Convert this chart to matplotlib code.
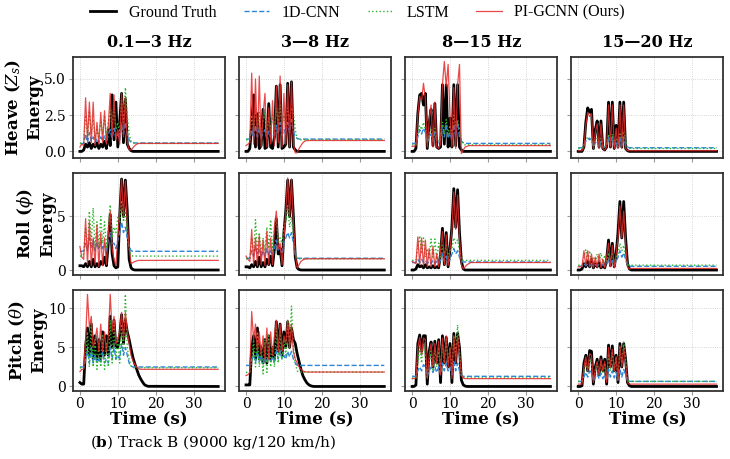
import numpy as np
import matplotlib.pyplot as plt

# sample times: 0..18 s every 0.5 s, then the flat tail out to 36.5 s
t = np.append(np.arange(0, 18.5, 0.5), 36.5)

bands = ["0.1\u20143 Hz", "3\u20148 Hz", "8\u201415 Hz", "15\u201420 Hz"]
row_labels = ["Heave ($Z_s$)\nEnergy", "Roll ($\\phi$)\nEnergy", "Pitch ($\\theta$)\nEnergy"]
models = ["Ground Truth", "1D-CNN", "LSTM", "PI-GCNN (Ours)"]

# ---- Heave ----
heave_gt = [
    [0, 0, 0.1, 0.5, 0.3, 0.6, 0.2, 0.5, 0.3, 0.6, 0.2, 0.5, 0.3, 0.7, 0.2, 1.5, 0.4, 3.9, 0.8, 3.4,
     0.3, 2.0, 4.0, 0.6, 3.6, 0.5, 0.2, 0.05, 0, 0, 0, 0, 0, 0, 0, 0, 0, 0],
    [0, 0, 0.2, 1.8, 3.9, 0.3, 2.6, 0.2, 0.4, 2.9, 0.2, 0.3, 3.3, 0.3, 0.2, 1.0, 4.5, 0.3, 4.6, 0.2,
     0.3, 0.5, 4.7, 0.3, 4.8, 0.3, 0.1, 0, 0, 0, 0, 0, 0, 0, 0, 0, 0, 0],
    [0, 0, 0.2, 2.6, 3.9, 4.0, 3.2, 4.0, 0.2, 2.0, 2.9, 0.4, 3.3, 0.3, 0.2, 0.3, 4.6, 0.5, 4.6, 0.3,
     2.3, 0.3, 4.6, 0.4, 4.6, 0.3, 0.1, 0, 0, 0, 0, 0, 0, 0, 0, 0, 0, 0],
    [0, 0, 0, 0.3, 2.0, 3.0, 2.7, 2.9, 0.2, 1.5, 2.1, 0.3, 2.1, 0.2, 0.1, 0.3, 3.4, 0.3, 3.4, 0.2,
     1.8, 0.3, 3.4, 0.3, 3.4, 0.2, 0.05, 0, 0, 0, 0, 0, 0, 0, 0, 0, 0, 0],
]
heave_cnn = [
    [0.55, 0.55, 0.55, 1.2, 0.6, 1.3, 0.7, 1.0, 0.6, 0.9, 0.6, 1.0, 0.7, 1.1, 0.6, 1.2, 1.5, 0.9, 1.6, 0.9,
     1.2, 0.8, 1.8, 1.2, 2.0, 1.2, 0.8, 0.6, 0.6, 0.58, 0.58, 0.58, 0.58, 0.58, 0.58, 0.58, 0.58, 0.58],
    [0.85, 0.85, 0.85, 1.5, 0.9, 1.8, 1.0, 1.6, 0.9, 1.3, 1.5, 0.9, 1.4, 1.0, 1.2, 1.1, 1.8, 1.2, 2.0, 1.1,
     1.5, 1.2, 2.0, 1.3, 2.2, 1.4, 1.0, 0.9, 0.85, 0.85, 0.85, 0.85, 0.85, 0.85, 0.85, 0.85, 0.85, 0.85],
    [0.55, 0.55, 0.55, 1.0, 1.5, 1.2, 1.6, 1.3, 0.6, 1.0, 1.2, 0.7, 1.3, 0.7, 0.6, 0.8, 1.8, 1.0, 1.9, 0.9,
     1.3, 0.8, 1.9, 1.0, 2.0, 1.0, 0.7, 0.6, 0.55, 0.55, 0.55, 0.55, 0.55, 0.55, 0.55, 0.55, 0.55, 0.55],
    [0.25, 0.25, 0.25, 0.4, 0.7, 0.9, 0.8, 0.9, 0.3, 0.6, 0.7, 0.3, 0.7, 0.3, 0.3, 0.4, 1.0, 0.4, 1.0, 0.3,
     0.7, 0.3, 1.0, 0.4, 1.0, 0.4, 0.3, 0.25, 0.25, 0.25, 0.25, 0.25, 0.25, 0.25, 0.25, 0.25, 0.25, 0.25],
]
heave_lstm = [
    [0.55, 0.55, 0.6, 2.5, 1.0, 2.8, 1.2, 2.2, 0.8, 1.5, 1.0, 2.0, 1.2, 2.5, 1.0, 2.0, 3.0, 1.5, 3.2, 1.5,
     2.0, 1.2, 3.5, 2.0, 4.4, 2.5, 1.2, 0.7, 0.6, 0.55, 0.55, 0.55, 0.55, 0.55, 0.55, 0.55, 0.55, 0.55],
    [0.8, 0.8, 0.8, 2.5, 1.5, 3.0, 1.5, 2.8, 1.0, 2.2, 2.6, 1.2, 2.4, 1.5, 2.5, 1.5, 3.0, 1.8, 3.2, 1.8,
     2.5, 1.8, 3.0, 2.2, 3.0, 2.7, 1.5, 0.9, 0.8, 0.8, 0.8, 0.8, 0.8, 0.8, 0.8, 0.8, 0.8, 0.8],
    [0.45, 0.45, 0.45, 1.2, 1.8, 1.5, 2.0, 1.5, 0.6, 1.2, 1.5, 0.8, 1.6, 0.8, 0.7, 1.0, 2.0, 1.2, 2.2, 1.2,
     1.8, 1.2, 2.5, 1.8, 2.2, 1.5, 0.8, 0.5, 0.45, 0.45, 0.45, 0.45, 0.45, 0.45, 0.45, 0.45, 0.45, 0.45],
    [0.2, 0.2, 0.2, 0.4, 0.8, 1.0, 0.9, 1.0, 0.3, 0.7, 0.9, 0.4, 0.9, 0.4, 0.3, 0.5, 1.2, 0.5, 1.2, 0.5,
     0.9, 0.5, 1.3, 0.7, 1.4, 0.8, 0.3, 0.2, 0.2, 0.2, 0.2, 0.2, 0.2, 0.2, 0.2, 0.2, 0.2, 0.2],
]
heave_pi = [
    [0.3, 0.5, 0.4, 3.7, 0.8, 3.4, 0.6, 3.4, 0.4, 2.0, 0.5, 2.7, 0.6, 2.8, 0.5, 1.8, 4.0, 1.0, 3.9, 0.8,
     1.5, 0.5, 4.0, 1.0, 3.8, 0.6, 0.1, 0.1, 0.25, 0.4, 0.5, 0.55, 0.55, 0.55, 0.55, 0.55, 0.55, 0.55],
    [0.4, 0.5, 0.6, 5.4, 0.5, 5.0, 0.4, 5.2, 0.3, 2.5, 4.0, 0.3, 3.0, 0.5, 3.5, 0.4, 4.5, 0.6, 5.2, 0.3,
     4.0, 0.5, 4.6, 0.3, 4.8, 0.5, -0.1, -0.1, 0.2, 0.4, 0.6, 0.7, 0.75, 0.75, 0.75, 0.75, 0.75, 0.75],
    [0.35, 0.35, 0.4, 2.5, 3.8, 3.5, 4.7, 3.6, 0.3, 2.2, 3.2, 0.3, 3.4, 0.3, 0.2, 0.5, 4.6, 6.2, 4.5, 6.0,
     2.4, 0.3, 4.4, 0.2, 4.6, 6.0, -0.15, 0.1, 0.3, 0.35, 0.4, 0.4, 0.4, 0.4, 0.4, 0.4, 0.4, 0.4],
    [0.05, 0.05, 0.05, 0.3, 1.8, 2.7, 2.4, 2.6, 0.2, 1.3, 1.9, 0.2, 1.9, 0.2, 0.1, 0.3, 3.2, 0.3, 3.2, 0.2,
     1.6, 0.2, 3.2, 0.2, 3.2, 0.2, 0.05, 0.05, 0.05, 0.05, 0.05, 0.05, 0.05, 0.05, 0.05, 0.05, 0.05, 0.05],
]

# ---- Roll ----
roll_gt = [
    [0.4, 0.4, 0.3, 0.6, 0.3, 0.8, 0.3, 1.0, 0.3, 0.6, 0.3, 0.8, 0.5, 1.2, 0.4, 2.5, 5.2, 1.5, 0.4, 0.2,
     0.3, 5.0, 8.5, 5.0, 8.4, 5.5, 1.0, 0.2, 0.05, 0, 0, 0, 0, 0, 0, 0, 0, 0],
    [0.3, 0.3, 0.2, 0.5, 0.3, 0.8, 0.3, 1.2, 0.3, 0.7, 0.3, 1.0, 0.5, 1.3, 0.4, 2.0, 4.8, 1.5, 2.0, 0.4,
     3.5, 5.5, 8.4, 5.0, 8.4, 5.0, 1.2, 0.2, 0.05, 0, 0, 0, 0, 0, 0, 0, 0, 0],
    [0, 0, 0.1, 0.5, 0.3, 0.4, 0.2, 0.5, 0.2, 0.3, 0.2, 0.4, 0.2, 0.3, 0.2, 1.5, 3.9, 0.5, 3.5, 0.3,
     2.0, 4.0, 7.6, 4.0, 7.5, 3.5, 0.8, 0.1, 0, 0, 0, 0, 0, 0, 0, 0, 0, 0],
    [0, 0, 0.1, 0.6, 0.3, 0.8, 0.3, 1.0, 0.2, 0.6, 0.3, 0.7, 0.2, 0.4, 0.2, 1.0, 2.8, 0.4, 2.5, 0.3,
     1.5, 3.5, 6.4, 3.0, 6.4, 3.0, 0.6, 0.1, 0, 0, 0, 0, 0, 0, 0, 0, 0, 0],
]
roll_cnn = [
    [1.75, 1.75, 1.8, 2.5, 1.8, 3.0, 2.0, 2.8, 1.8, 2.6, 1.9, 2.8, 2.0, 2.5, 1.8, 2.8, 3.5, 2.5, 2.5, 2.0,
     2.8, 3.5, 4.5, 3.5, 4.0, 3.0, 2.2, 1.8, 1.75, 1.75, 1.75, 1.75, 1.75, 1.75, 1.75, 1.75, 1.75, 1.75],
    [1.1, 1.1, 1.1, 1.8, 1.3, 2.2, 1.4, 2.0, 1.2, 1.8, 1.3, 2.0, 1.4, 1.8, 1.3, 2.0, 2.8, 1.8, 2.0, 1.5,
     2.5, 3.0, 3.5, 3.0, 3.5, 2.5, 1.5, 1.1, 1.1, 1.1, 1.1, 1.1, 1.1, 1.1, 1.1, 1.1, 1.1, 1.1],
    [0.7, 0.7, 0.7, 1.0, 0.7, 1.0, 0.7, 0.9, 0.6, 0.8, 0.6, 0.9, 0.6, 0.8, 0.6, 0.9, 1.5, 0.8, 1.3, 0.7,
     1.0, 1.5, 2.0, 1.5, 1.8, 1.2, 0.8, 0.75, 0.75, 0.75, 0.75, 0.75, 0.75, 0.75, 0.75, 0.75, 0.75, 0.75],
    [0.35, 0.35, 0.35, 0.6, 0.4, 0.6, 0.4, 0.5, 0.35, 0.5, 0.4, 0.5, 0.4, 0.5, 0.35, 0.5, 1.0, 0.4, 0.9, 0.4,
     0.8, 1.2, 1.8, 1.2, 1.6, 1.0, 0.4, 0.35, 0.35, 0.35, 0.35, 0.35, 0.35, 0.35, 0.35, 0.35, 0.35, 0.35],
]
roll_lstm = [
    [1.3, 1.3, 1.5, 4.0, 2.0, 5.5, 2.5, 5.8, 2.0, 4.5, 2.2, 5.0, 2.5, 4.5, 2.0, 4.0, 6.1, 3.0, 4.0, 3.5,
     5.0, 4.5, 6.5, 4.5, 5.5, 3.5, 2.0, 1.4, 1.3, 1.3, 1.3, 1.3, 1.3, 1.3, 1.3, 1.3, 1.3, 1.3],
    [1.05, 1.05, 1.1, 3.0, 1.5, 4.7, 1.8, 3.5, 1.5, 3.0, 1.8, 4.0, 2.0, 4.7, 1.8, 4.0, 5.0, 2.5, 3.0, 2.5,
     4.0, 4.5, 6.0, 4.0, 5.0, 3.0, 1.5, 1.1, 1.05, 1.05, 1.05, 1.05, 1.05, 1.05, 1.05, 1.05, 1.05, 1.05],
    [0.9, 0.9, 0.9, 2.0, 3.2, 1.5, 3.0, 1.2, 2.0, 1.0, 2.9, 1.2, 2.9, 1.0, 2.5, 1.2, 2.3, 1.5, 2.3, 1.2,
     1.8, 2.0, 3.0, 2.5, 2.8, 1.8, 1.0, 0.9, 0.9, 0.9, 0.9, 0.9, 0.9, 0.9, 0.9, 0.9, 0.9, 0.9],
    [0.45, 0.45, 0.45, 1.2, 1.9, 0.8, 1.8, 0.6, 1.2, 0.6, 1.5, 0.7, 1.6, 0.6, 1.4, 0.7, 1.6, 0.8, 1.5, 0.7,
     1.2, 1.5, 2.5, 1.8, 2.3, 1.2, 0.5, 0.45, 0.45, 0.45, 0.45, 0.45, 0.45, 0.45, 0.45, 0.45, 0.45, 0.45],
]
roll_pi = [
    [2.2, 1.2, 1.0, 4.8, 0.5, 4.5, 0.4, 3.0, 0.5, 4.2, 0.3, 3.5, 0.4, 3.0, 0.5, 3.5, 5.5, 2.0, 1.0, 0.4,
     3.0, 5.5, 8.5, 5.0, 8.3, 4.5, 2.0, 0.6, 0.7, 0.8, 0.85, 0.9, 0.9, 0.9, 0.9, 0.9, 0.9, 0.9],
    [1.3, 1.0, 0.8, 3.8, 0.5, 3.0, 0.4, 3.2, 0.5, 2.8, 0.4, 3.6, 0.5, 3.0, 0.5, 4.0, 5.5, 2.0, 2.5, 0.5,
     3.0, 5.5, 8.6, 5.0, 8.5, 4.5, 1.5, 0.2, 0.5, 0.8, 0.95, 1.0, 1.05, 1.05, 1.05, 1.05, 1.05, 1.05],
    [0.8, 0.7, 0.6, 3.1, 0.5, 3.0, 0.4, 2.8, 0.3, 2.0, 0.3, 2.2, 0.3, 1.5, 0.3, 1.8, 3.6, 0.5, 3.3, 0.4,
     2.0, 3.8, 7.3, 3.8, 7.0, 3.0, 0.5, 0.1, 0.3, 0.5, 0.6, 0.7, 0.7, 0.7, 0.7, 0.7, 0.7, 0.7],
    [0.3, 0.3, 0.3, 1.8, 0.4, 1.8, 0.3, 1.5, 0.2, 1.2, 0.2, 1.5, 0.2, 1.0, 0.2, 1.2, 2.5, 0.3, 2.3, 0.2,
     1.5, 3.0, 6.0, 3.0, 5.5, 2.5, 0.3, 0.1, 0.15, 0.15, 0.15, 0.15, 0.15, 0.15, 0.15, 0.15, 0.15, 0.15],
]

# ---- Pitch ----
pitch_gt = [
    [0.5, 0.3, 0.3, 5.1, 7.5, 4.0, 8.0, 3.5, 6.5, 3.5, 6.0, 3.5, 7.0, 4.0, 6.5, 4.0, 9.0, 5.0, 8.5, 5.0,
     5.0, 6.5, 9.2, 5.5, 8.5, 7.0, 6.0, 4.8, 3.7, 2.9, 2.2, 1.5, 1.0, 0.6, 0.25, 0.1, 0.02, 0],
    [0.2, 0.2, 0.2, 5.0, 6.5, 3.5, 7.5, 3.5, 5.0, 3.0, 6.0, 3.0, 6.5, 3.5, 5.0, 3.5, 8.3, 4.5, 8.0, 4.0,
     7.0, 5.0, 8.3, 5.0, 7.5, 6.0, 5.5, 4.2, 3.2, 2.2, 1.4, 0.9, 0.5, 0.25, 0.1, 0.03, 0, 0],
    [0, 0, 0.2, 5.5, 6.6, 4.5, 6.5, 6.5, 0.3, 4.5, 5.7, 2.5, 5.8, 3.0, 6.0, 0.5, 6.5, 3.0, 6.3, 2.5,
     5.5, 0.5, 6.8, 3.0, 6.8, 5.0, 0.8, 0.2, 0.05, 0, 0, 0, 0, 0, 0, 0, 0, 0],
    [0, 0, 0.1, 3.0, 4.0, 2.0, 4.6, 4.5, 0.3, 2.5, 3.5, 1.5, 3.8, 2.0, 3.5, 0.3, 5.3, 2.5, 5.2, 2.0,
     4.0, 0.5, 5.5, 2.5, 5.5, 3.5, 0.5, 0.1, 0, 0, 0, 0, 0, 0, 0, 0, 0, 0],
]
pitch_cnn = [
    [2.5, 2.5, 2.5, 3.5, 4.5, 3.0, 5.0, 3.0, 4.0, 3.0, 3.5, 3.0, 4.5, 3.0, 3.5, 3.0, 5.0, 3.5, 5.0, 3.5,
     4.0, 3.5, 5.5, 4.0, 5.0, 4.0, 3.0, 2.6, 2.5, 2.5, 2.5, 2.5, 2.5, 2.5, 2.5, 2.5, 2.5, 2.5],
    [2.7, 2.7, 2.7, 3.5, 4.0, 3.0, 4.5, 3.2, 4.0, 3.0, 3.8, 3.0, 4.2, 3.2, 3.8, 3.0, 4.5, 3.5, 4.5, 3.5,
     4.0, 3.5, 4.5, 3.8, 4.5, 3.5, 3.0, 2.7, 2.7, 2.7, 2.7, 2.7, 2.7, 2.7, 2.7, 2.7, 2.7, 2.7],
    [1.3, 1.3, 1.3, 2.0, 2.5, 2.0, 2.8, 2.5, 1.3, 2.0, 2.5, 1.8, 2.5, 1.8, 2.5, 1.5, 3.0, 2.0, 3.0, 2.0,
     2.5, 1.5, 3.2, 2.0, 3.0, 2.0, 1.4, 1.3, 1.3, 1.3, 1.3, 1.3, 1.3, 1.3, 1.3, 1.3, 1.3, 1.3],
    [0.65, 0.65, 0.65, 1.2, 1.8, 1.2, 2.0, 1.8, 0.7, 1.2, 1.6, 1.0, 1.7, 1.0, 1.5, 0.7, 2.2, 1.2, 2.0, 1.1,
     1.8, 0.8, 2.3, 1.2, 2.2, 1.5, 0.7, 0.65, 0.65, 0.65, 0.65, 0.65, 0.65, 0.65, 0.65, 0.65, 0.65, 0.65],
]
pitch_lstm = [
    [2.4, 2.4, 2.4, 3.5, 7.0, 2.5, 8.0, 2.5, 6.0, 2.2, 5.5, 2.5, 6.5, 2.2, 5.5, 2.5, 8.5, 3.0, 8.5, 3.5,
     6.5, 3.0, 8.0, 4.5, 11.8, 5.0, 3.5, 2.6, 2.4, 2.4, 2.4, 2.4, 2.4, 2.4, 2.4, 2.4, 2.4, 2.4],
    [1.8, 1.8, 1.9, 3.0, 6.0, 2.5, 7.0, 2.5, 5.5, 1.6, 6.0, 1.8, 6.5, 2.5, 5.0, 2.5, 7.5, 3.0, 7.0, 3.5,
     6.0, 4.0, 8.5, 5.0, 10.3, 5.0, 3.0, 2.0, 1.85, 1.85, 1.85, 1.85, 1.85, 1.85, 1.85, 1.85, 1.85, 1.85],
    [1.1, 1.1, 1.1, 3.0, 5.0, 3.0, 5.5, 4.0, 1.2, 3.0, 4.5, 2.0, 4.8, 2.5, 5.0, 2.0, 5.5, 3.0, 6.0, 3.0,
     5.0, 2.0, 6.5, 4.0, 7.9, 4.5, 1.5, 1.1, 1.1, 1.1, 1.1, 1.1, 1.1, 1.1, 1.1, 1.1, 1.1, 1.1],
    [0.65, 0.65, 0.65, 1.8, 3.0, 2.0, 3.5, 3.0, 0.8, 2.0, 3.0, 1.5, 3.2, 1.8, 3.0, 1.0, 4.2, 2.0, 4.5, 2.0,
     3.8, 1.0, 5.0, 3.0, 5.7, 3.5, 0.8, 0.65, 0.65, 0.65, 0.65, 0.65, 0.65, 0.65, 0.65, 0.65, 0.65, 0.65],
]
pitch_pi = [
    [1.9, 2.2, 2.2, 6.0, 11.8, 7.5, 9.0, 5.0, 6.0, 7.5, 4.5, 8.0, 4.5, 7.0, 4.5, 6.5, 11.8, 7.0, 9.0, 5.5,
     6.0, 7.0, 9.5, 6.0, 9.5, 7.0, 5.5, 4.0, 3.3, 2.8, 2.5, 2.3, 2.2, 2.2, 2.2, 2.2, 2.2, 2.2],
    [1.4, 1.5, 1.8, 9.6, 6.0, 8.0, 4.5, 7.0, 4.0, 6.5, 3.5, 7.5, 3.5, 7.0, 4.0, 6.5, 8.5, 4.5, 8.0, 4.5,
     6.5, 5.5, 8.5, 5.0, 8.0, 4.5, 3.5, 3.0, 2.5, 2.2, 2.0, 1.9, 1.85, 1.85, 1.85, 1.85, 1.85, 1.85],
    [1.0, 1.0, 1.1, 5.0, 6.3, 4.0, 6.2, 6.0, 1.0, 4.0, 5.5, 2.5, 5.5, 3.0, 5.8, 1.5, 6.2, 3.0, 6.5, 2.5,
     5.0, 1.0, 6.5, 3.0, 6.5, 4.0, 1.5, 1.1, 1.0, 1.0, 1.0, 1.0, 1.0, 1.0, 1.0, 1.0, 1.0, 1.0],
    [0.3, 0.3, 0.3, 2.5, 3.8, 2.0, 4.2, 4.0, 0.5, 2.2, 3.2, 1.5, 3.5, 2.0, 3.2, 0.5, 5.0, 2.5, 4.8, 2.0,
     3.8, 0.8, 5.2, 2.5, 5.0, 3.0, 0.5, 0.3, 0.3, 0.3, 0.3, 0.3, 0.3, 0.3, 0.3, 0.3, 0.3, 0.3],
]

rows = [
    (heave_gt, heave_cnn, heave_lstm, heave_pi),
    (roll_gt, roll_cnn, roll_lstm, roll_pi),
    (pitch_gt, pitch_cnn, pitch_lstm, pitch_pi),
]
yticks = [[0, 2.5, 5.0], [0, 5], [0, 5, 10]]

plt.rcParams['font.family'] = 'DejaVu Serif'
plt.rcParams['mathtext.fontset'] = 'dejavuserif'

fig, axes = plt.subplots(3, 4, figsize=(7.3, 4.59), dpi=100, sharex=True, sharey='row')
fig.subplots_adjust(left=0.1, right=0.991, top=0.876, bottom=0.148, wspace=0.092, hspace=0.15)

for r, (gt, cnn, lstm, pi) in enumerate(rows):
    for c in range(4):
        ax = axes[r, c]
        ax.plot(t, gt[c], color='black', lw=2.0, label=models[0])
        ax.plot(t, cnn[c], color='#2e86d6', lw=1.0, ls='--', label=models[1])
        ax.plot(t, lstm[c], color='#2db52d', lw=1.0, ls=':', label=models[2])
        ax.plot(t, pi[c], color='#e42a2a', lw=0.9, alpha=0.85, label=models[3])
        ax.grid(True, ls=':', lw=0.6, color='#c8c8c8')
        for sp in ax.spines.values():
            sp.set_color('#333333')
            sp.set_linewidth(1.3)
        ax.tick_params(length=3, color='#999999', labelsize=10, pad=2)
        ax.tick_params(axis='x', pad=1)
        ax.set_yticks(yticks[r])
        if r == 0:
            ax.set_title(bands[c], fontsize=11.5, fontweight='bold', pad=7)
        if r == 2:
            ax.set_xlabel("Time (s)", fontsize=12, fontweight='bold', labelpad=0)
    axes[r, 0].set_ylabel(row_labels[r], fontsize=12, fontweight='bold', labelpad=1)

axes[2, 0].set_xticks([0, 10, 20, 30])
axes[0, 0].yaxis.set_major_formatter(plt.FormatStrFormatter('%.1f'))

h, l = axes[0, 0].get_legend_handles_labels()
fig.legend(h, l, loc='center', bbox_to_anchor=(0.49, 0.972), ncol=4, frameon=False,
           prop={'family': 'Liberation Serif', 'size': 11.5}, handlelength=1.6,
           handletextpad=0.8, columnspacing=1.7)

fig.text(0.123, 0.035, r"($\mathbf{b}$) Track B (9000 kg/120 km/h)", fontsize=11, va='center', ha='left')

fig.savefig('out.png', dpi=100)
